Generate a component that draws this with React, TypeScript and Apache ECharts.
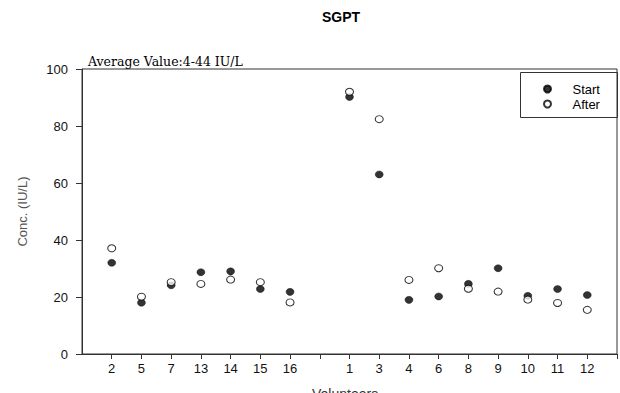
import React, { useEffect, useRef } from "react";
import * as echarts from "echarts";

const categories = ["", "2", "5", "7", "13", "14", "15", "16", "", "1", "3", "4", "6", "8", "9", "10", "11", "12", ""];
const startValues = [null, 32, 18, 24.1, 28.7, 29, 22.8, 21.8, null, 90.2, 63, 19, 20.2, 24.6, 30.1, 20.4, 22.8, 20.7, null];
const afterValues = [null, 37.1, 20.1, 25.2, 24.6, 26.1, 25.2, 18.1, null, 92, 82.4, 26, 30.1, 22.9, 21.9, 19.1, 17.9, 15.5, null];
const yTicks = { min: 0, max: 100, interval: 20 };

export default function App() {
  const ref = useRef<HTMLDivElement>(null);
  useEffect(() => {
    document.body.style.margin = "0";
    const chart = echarts.init(ref.current!, null, { renderer: "svg" });
    const font = "'Liberation Sans', Arial, sans-serif";
    chart.setOption({
      animation: false,
      backgroundColor: "#fff",
      title: {
        text: "SGPT",
        left: 322,
        top: 10,
        padding: 0,
        textStyle: { fontFamily: font, fontSize: 14, fontWeight: "bold", color: "#000" },
      },
      grid: {
        left: 82,
        top: 69,
        width: 546.75,
        height: 285,
        show: true,
        borderColor: "#333",
        borderWidth: 1,
        backgroundColor: "transparent",
      },
      legend: {
        orient: "vertical",
        left: 543,
        top: 81.5,
        padding: 0,
        itemWidth: 40,
        itemHeight: 7,
        itemGap: 0,
        textStyle: { fontFamily: font, fontSize: 13, color: "#000", lineHeight: 15 },
        data: ["Start", "After"],
      },
      xAxis: {
        type: "category",
        data: categories,
        boundaryGap: false,
        axisLine: { lineStyle: { color: "#333", width: 1 } },
        axisTick: {
          interval: (i: number) => i !== 0,
          length: 5,
          lineStyle: { color: "#333" },
        },
        axisLabel: { interval: 0, margin: 8, fontFamily: font, fontSize: 13, color: "#111" },
        splitLine: { show: false },
      },
      yAxis: {
        type: "value",
        min: yTicks.min,
        max: yTicks.max,
        interval: yTicks.interval,
        name: "Conc. (IU/L)",
        nameLocation: "middle",
        nameRotate: 90,
        nameGap: 53,
        nameTextStyle: { fontFamily: font, fontSize: 13, color: "#555" },
        axisLine: { show: true, lineStyle: { color: "#333", width: 1 } },
        axisTick: { show: true, length: 6, lineStyle: { color: "#333" } },
        axisLabel: { margin: 14, fontFamily: font, fontSize: 13, color: "#111" },
        splitLine: { show: false },
      },
      graphic: [
        {
          type: "text",
          left: 88,
          top: 55,
          style: {
            text: "Average Value:4-44 IU/L",
            font: "12.5px 'DejaVu Serif', serif",
            fill: "#000",
          },
        },
        {
          type: "text",
          left: 312,
          top: 387,
          style: {
            text: "Volunteers",
            font: "14px 'Liberation Sans', Arial, sans-serif",
            fill: "#333",
          },
        },
        {
          type: "rect",
          shape: { x: 520.5, y: 72.5, width: 97, height: 45 },
          style: { fill: "none", stroke: "#333", lineWidth: 1 },
          z: 10,
        },
      ],
      series: [
        {
          name: "Start",
          type: "scatter",
          data: startValues,
          symbol: "circle",
          symbolSize: [8, 7],
          itemStyle: { color: "#000", borderColor: "#000", borderWidth: 0.5 },
        },
        {
          name: "After",
          type: "scatter",
          data: afterValues,
          symbol: "circle",
          symbolSize: [8, 7],
          itemStyle: { color: "#fff", borderColor: "#000", borderWidth: 1 },
        },
      ],
    });
    return () => chart.dispose();
  }, []);
  return <div ref={ref} style={{ width: 620, height: 393 }} />;
}
